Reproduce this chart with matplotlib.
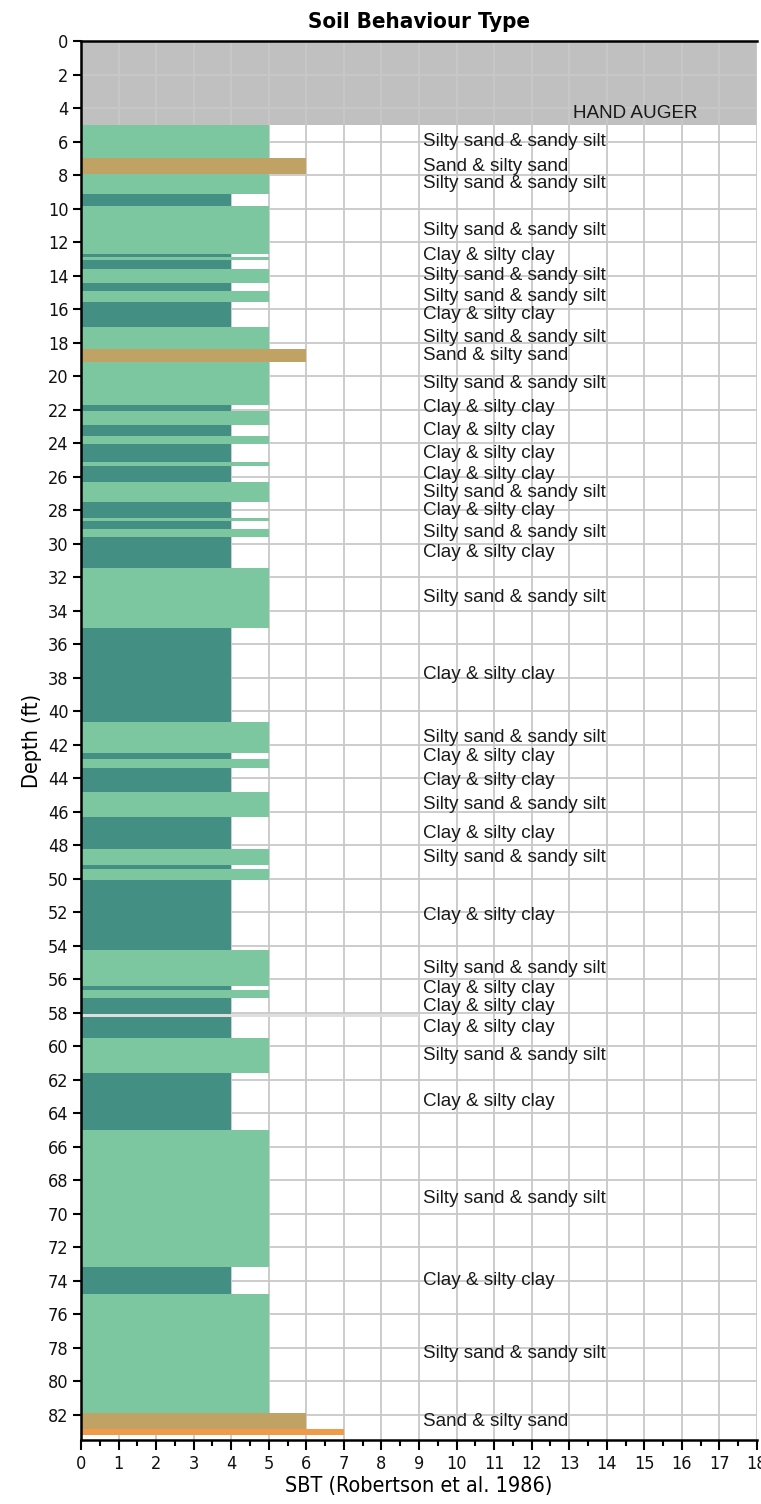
import matplotlib
matplotlib.use("Agg")
import matplotlib.pyplot as plt
from matplotlib.ticker import MultipleLocator

# Layer table: top depth (ft), bottom depth (ft), SBT zone, whether the layer is annotated
layer_top = [5.00, 7.00, 7.95, 9.12, 9.86, 12.72, 12.90, 13.08, 13.58, 14.42,
             14.90, 15.56, 17.06, 18.38, 19.13, 21.74, 22.06, 22.93, 23.60, 24.08,
             25.15, 25.39, 26.34, 27.52, 28.48, 28.65, 29.11, 29.58, 31.45, 35.02,
             40.62, 42.52, 42.88, 43.41, 44.82, 46.33, 48.23, 49.19, 49.42, 50.08,
             54.27, 56.41, 56.64, 57.12, 58.10, 58.25, 59.49, 61.62, 64.97, 73.15,
             74.80, 81.90, 82.86]
layer_bottom = [7.00, 7.95, 9.12, 9.86, 12.72, 12.90, 13.08, 13.58, 14.42, 14.90,
                15.56, 17.06, 18.38, 19.13, 21.74, 22.06, 22.93, 23.60, 24.08, 25.15,
                25.39, 26.34, 27.52, 28.48, 28.65, 29.11, 29.58, 31.45, 35.02, 40.62,
                42.52, 42.88, 43.41, 44.82, 46.33, 48.23, 49.19, 49.42, 50.08, 54.27,
                56.41, 56.64, 57.12, 58.10, 58.25, 59.49, 61.62, 64.97, 73.15, 74.80,
                81.90, 82.86, 83.19]
layer_sbt = [5, 6, 5, 4, 5, 4, 5, 4, 5, 4,
             5, 4, 5, 6, 5, 4, 5, 4, 5, 4,
             5, 4, 5, 4, 5, 4, 5, 4, 5, 4,
             5, 4, 5, 4, 5, 4, 5, 4, 5, 4,
             5, 4, 5, 4, 9, 4, 5, 4, 5, 4,
             5, 6, 7]
layer_labelled = [1, 1, 1, 0, 1, 1, 0, 0, 1, 0,
                  1, 1, 1, 1, 1, 1, 0, 1, 0, 1,
                  0, 1, 1, 1, 0, 0, 1, 1, 1, 1,
                  1, 1, 0, 1, 1, 1, 1, 0, 0, 1,
                  1, 1, 0, 1, 0, 1, 1, 1, 1, 1,
                  1, 1, 0]

zone_names = {4: "Clay & silty clay",
              5: "Silty sand & sandy silt",
              6: "Sand & silty sand",
              7: "Sand",
              9: ""}
zone_colors = {4: "#448F84",
               5: "#7CC6A0",
               6: "#C0A265",
               7: "#F09B4A",
               9: "#DEDEDE"}

hand_auger_depth = 5.0
max_depth = 83.5
sbt_max = 18
y_ticks = list(range(0, 84, 2))
x_ticks = list(range(0, 19))

fig = plt.figure(figsize=(7.61, 15.04), dpi=100)
ax = fig.add_axes([81 / 761, 1 - 1440 / 1504, 676 / 761, (1440 - 41) / 1504])

# pre-drilled interval
ax.axhspan(0, hand_auger_depth, xmin=0, xmax=1, color="#C0C0C0", zorder=0.3, lw=0)
ax.text(13.1, 4.3, "HAND AUGER", fontsize=13.6, family="Liberation Sans",
        color="#1a1a1a", ha="left", va="center", zorder=3)

mids = [(t + b) / 2 for t, b in zip(layer_top, layer_bottom)]
thick = [b - t for t, b in zip(layer_top, layer_bottom)]
ax.barh(mids, layer_sbt, height=thick, left=0,
        color=[zone_colors[z] for z in layer_sbt], lw=0, zorder=2)

for m, z, lab in zip(mids, layer_sbt, layer_labelled):
    if lab:
        ax.text(9.1, m, zone_names[z], fontsize=13.6, family="Liberation Sans",
                color="#1a1a1a", ha="left", va="center", zorder=3)

ax.set_xlim(0, sbt_max)
ax.set_ylim(max_depth, 0)
ax.set_xticks(x_ticks)
ax.set_yticks(y_ticks)
ax.xaxis.set_minor_locator(MultipleLocator(0.5))
ax.set_axisbelow(True)
ax.grid(True, which="major", color="#C8C8C8", lw=1.3)

ax.tick_params(axis="both", which="major", direction="out", width=1.5,
               colors="black", labelsize=13)
ax.tick_params(axis="x", which="major", length=7, pad=4)
ax.tick_params(axis="x", which="minor", length=4, width=1.5)
ax.tick_params(axis="y", which="major", length=6, pad=3)
for lbl in ax.get_xticklabels() + ax.get_yticklabels():
    lbl.set_fontfamily("DejaVu Sans")
    lbl.set_fontstretch("condensed")
    lbl.set_color("#111111")

for side in ("left", "bottom", "top"):
    ax.spines[side].set_linewidth(1.8)
    ax.spines[side].set_color("black")
ax.spines["right"].set_visible(False)

ax.set_xlabel("SBT (Robertson et al. 1986)", fontsize=15.5, family="DejaVu Sans",
              fontstretch="condensed", labelpad=2)
ax.set_ylabel("Depth (ft)", fontsize=15.5, family="DejaVu Sans",
              fontstretch="condensed", labelpad=4)
ax.set_title("Soil Behaviour Type", fontsize=16, family="DejaVu Sans",
             fontstretch="condensed", fontweight="bold", pad=9)

fig.savefig("out.png", dpi=100)
